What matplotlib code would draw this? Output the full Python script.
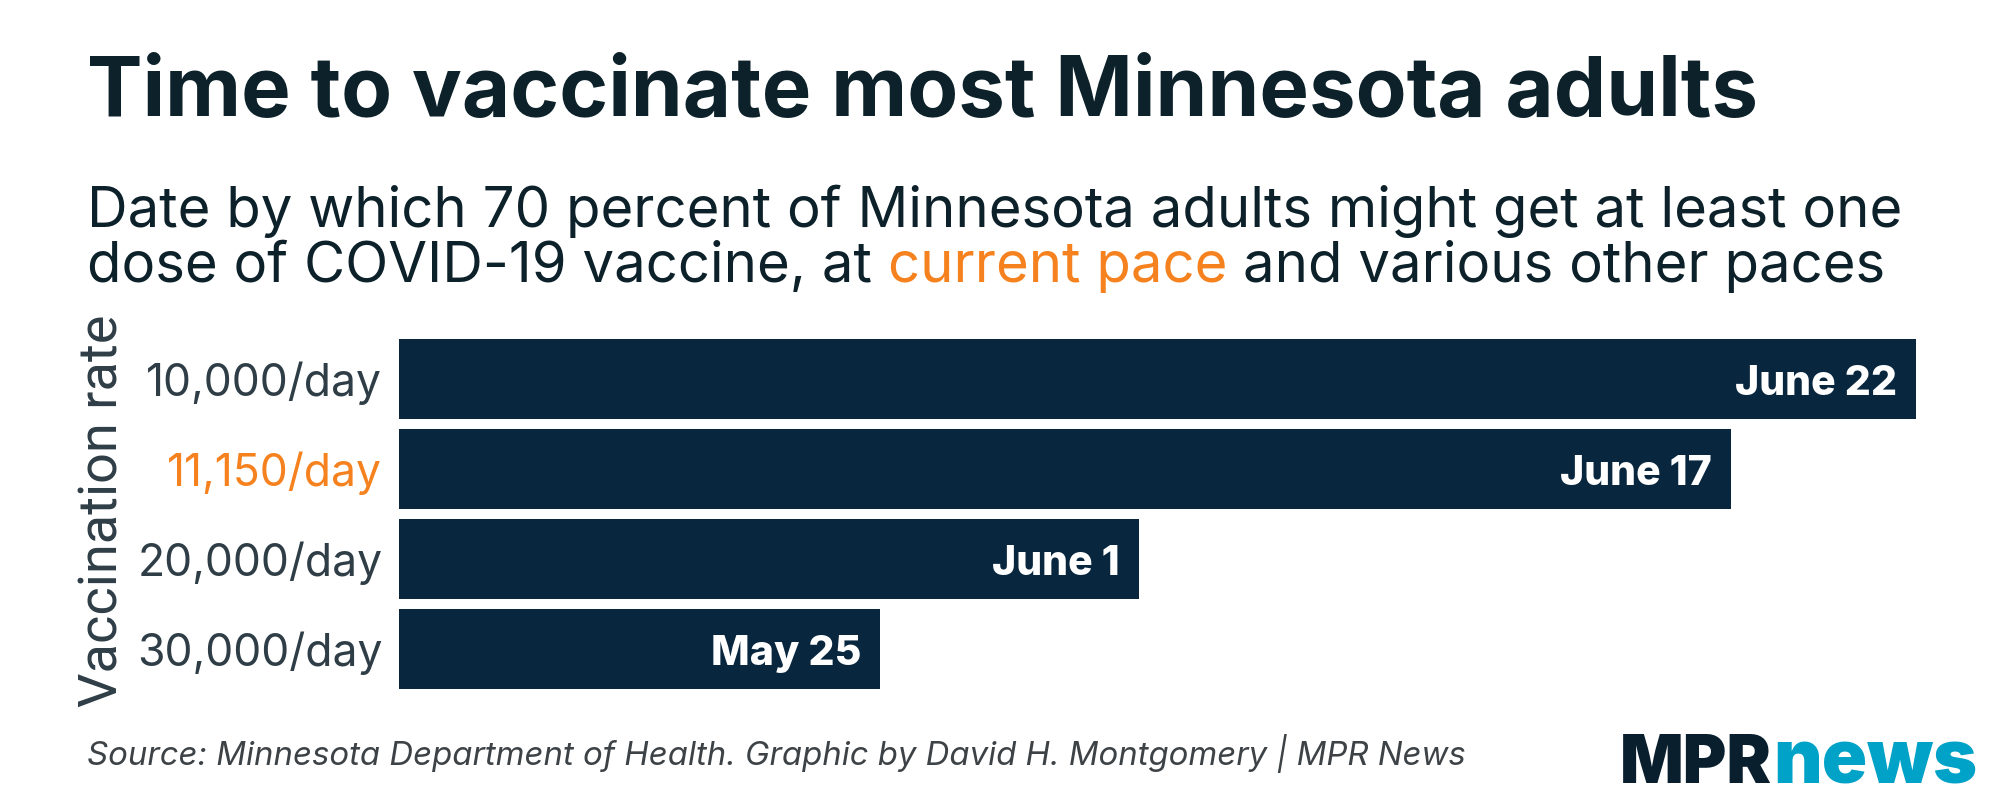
import datetime as dt
import matplotlib
matplotlib.use("Agg")
import matplotlib.pyplot as plt
import matplotlib.dates as mdates

plt.rcParams['font.family'] = ['Inter', 'DejaVu Sans']

# data
rates = ["10,000/day", "11,150/day", "20,000/day", "30,000/day"]
endDates = [dt.date(2021, 6, 22), dt.date(2021, 6, 17), dt.date(2021, 6, 1), dt.date(2021, 5, 25)]
startDate = dt.date(2021, 5, 12)
currentPace = "11,150/day"

title = "Time to vaccinate most Minnesota adults"
sub1 = "Date by which 70 percent of Minnesota adults might get at least one"
sub2a = "dose of COVID-19 vaccine, at "
sub2b = "current pace"
sub2c = " and various other paces"
source = "Source: Minnesota Department of Health. Graphic by David H. Montgomery | MPR News"

DARK = "#0c2129"
GREY = "#2f3e46"
ORANGE = "#f5821f"
BAR = "#08263e"

W, H = 2000, 800
fig = plt.figure(figsize=(W / 100, H / 100), dpi=100)
fig.patch.set_facecolor("white")
ax = fig.add_axes([399 / W, 1 - 689 / H, (1916 - 399) / W, (689 - 339) / H])

start = mdates.date2num(startDate)
ends = mdates.date2num(endDates)
y = list(range(len(rates)))

ax.barh(y, ends - start, left=start, height=0.89, color=BAR)
ax.set_xlim(start, max(ends))
ax.set_ylim(len(rates) - 1 + 0.445, -0.445)

for s in ax.spines.values():
	s.set_visible(False)
ax.set_xticks([])
ax.set_yticks(y)
ax.set_yticklabels(rates, fontsize=32, color=GREY)
ax.tick_params(axis='y', length=0, pad=12)
for lbl in ax.get_yticklabels():
	if lbl.get_text() == currentPace:
		lbl.set_color(ORANGE)

# date labels inside the bar ends
for i, d in enumerate(endDates):
	ax.annotate("%s %d" % (d.strftime("%B"), d.day), xy=(mdates.date2num(d), i),
		xytext=(-13.7, -11.5), textcoords="offset points",
		ha="right", va="baseline", color="white", fontsize=29.5, fontweight=800)

fig.text(103 / W, 1 - 511 / H, "Vaccination rate", rotation=90, ha="center", va="center",
	fontsize=39, family=["Roboto", "DejaVu Sans"], color=GREY)

# headline and subtitle
fig.text(87 / W, 1 - 116 / H, title, fontsize=60, fontweight="bold", color=DARK, va="baseline")
fig.text(87 / W, 1 - 227 / H, sub1, fontsize=40.5, color=DARK, va="baseline")

r = fig.canvas.get_renderer()
def inkWidth(s, **kw):
	t = fig.text(0, 0, s, **kw)
	w = t.get_window_extent(renderer=r).width
	t.remove()
	return w

subKw = dict(fontsize=40.5)
x0 = 87
xb = x0 + inkWidth(sub2a + "c", **subKw) - inkWidth("c", **subKw)
xc = x0 + inkWidth(sub2a + sub2b + " a", **subKw) - inkWidth("a", **subKw)
yb = 1 - 282 / H
fig.text(x0 / W, yb, sub2a.strip(), color=DARK, va="baseline", **subKw)
fig.text(xb / W, yb, sub2b, color=ORANGE, va="baseline", **subKw)
fig.text(xc / W, yb, sub2c.strip(), color=DARK, va="baseline", **subKw)

# footer
fig.text(87 / W, 1 - 765 / H, source, fontsize=23.7, style="italic", color="#3d4246", va="baseline")
fig.text(1772 / W, 1 - 783 / H, "MPR", fontsize=48, fontweight=900, color="#0a1f2d",
	ha="right", va="baseline")
fig.text(1977 / W, 1 - 783 / H, "news", fontsize=54, fontweight=900, color="#00a2c7",
	ha="right", va="baseline")

fig.savefig("out.png", dpi=100, facecolor="white")
